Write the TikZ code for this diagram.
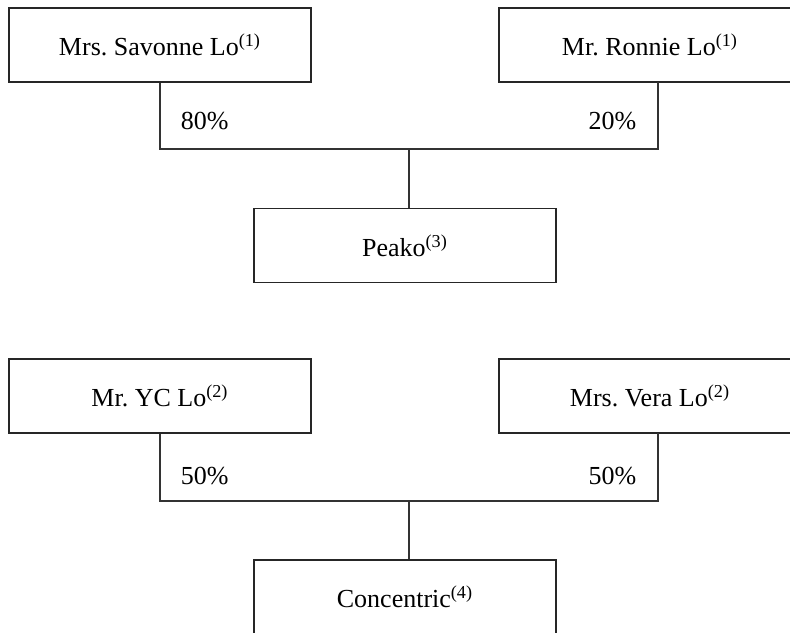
\documentclass[tikz,border=0pt]{standalone}
\usepackage{fontspec}
\setmainfont{Liberation Serif}
\frenchspacing
\begin{document}
\begin{tikzpicture}[x=0.5pt, y=-0.5pt, line width=0.8pt,
    holder/.style={draw=black!85, minimum width=151pt, minimum height=37pt, inner sep=0pt, font=\fontsize{13}{15}\selectfont},
    share/.style={inner sep=0pt, font=\fontsize{13}{15}\selectfont},
    link/.style={draw=black!80}]
    \useasboundingbox (0,0) rectangle (790,632);
    \clip (0,0) rectangle (790,632);
    % Peako
    \node[holder] (sav) at (160,45) {Mrs. Savonne Lo\textsuperscript{(1)}};
    \node[holder] (ron) at (650,45) {Mr. Ronnie Lo\textsuperscript{(1)}};
    \node[holder] (peako) at (405,245.5) {Peako\textsuperscript{(3)}};
    \coordinate (ronleg) at (658,82);
    \coordinate (pkbar) at (160,149);
    \draw[link] (sav.south) -- (pkbar) -| (ronleg);
    \draw[link] (pkbar -| 409,0) -- (peako.north -| 409,0);
    \node[share, anchor=west] (savpct) at (180,121) {80\%};
    \node[share, anchor=east] (ronpct) at (637,121) {20\%};
    % Concentric
    \node[holder] (yc) at (160,396) {Mr. YC Lo\textsuperscript{(2)}};
    \node[holder] (vera) at (650,396) {Mrs. Vera Lo\textsuperscript{(2)}};
    \node[holder] (conc) at (405,597) {Concentric\textsuperscript{(4)}};
    \coordinate (veraleg) at (658,433);
    \coordinate (ccbar) at (160,501);
    \draw[link] (yc.south) -- (ccbar) -| (veraleg);
    \draw[link] (ccbar -| 409,0) -- (conc.north -| 409,0);
    \node[share, anchor=west] (ycpct) at (180,476) {50\%};
    \node[share, anchor=east] (verapct) at (637,476) {50\%};
\end{tikzpicture}
\end{document}
